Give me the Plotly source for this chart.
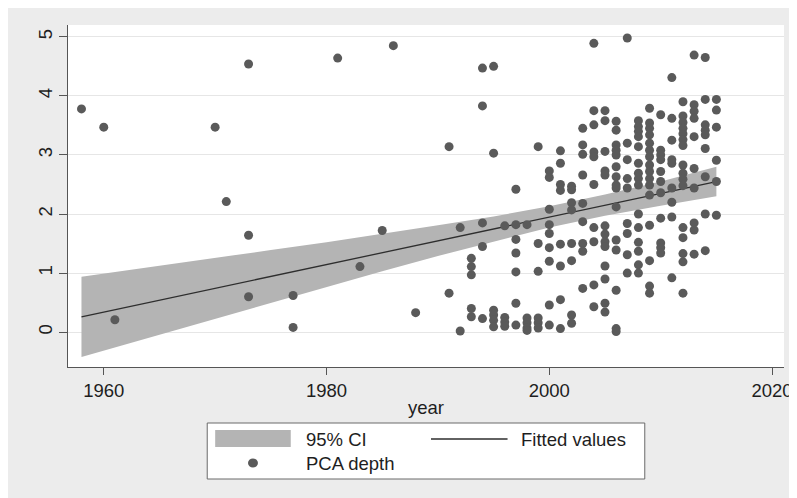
import plotly.graph_objects as go

# ---------------- data ----------------
pca_year = (
    [1958] + [1960] + [1961] + [1970] + [1971] + [1973] * 3 + [1977] * 2 + [1981] + [1983] + [1985] + [1986]
    + [1988] + [1991] * 2 + [1992] * 2 + [1993] * 5 + [1994] * 5 + [1995] * 6 + [1996] * 4 + [1997] * 7
    + [1998] * 5 + [1999] * 6 + [2000] * 9 + [2001] * 8 + [2002] * 8 + [2003] * 9 + [2004] * 10
    + [2005] * 13 + [2006] * 15 + [2007] * 9 + [2008] * 15 + [2009] * 16 + [2010] * 11 + [2011] * 9
    + [2012] * 16 + [2013] * 10 + [2014] * 9 + [2015] * 6
)
pca_depth = [
    3.78,
    3.47,
    0.21,
    3.47,
    2.21,
    4.54, 1.64, 0.60,
    0.62, 0.08,
    4.64,
    1.11,
    1.72,
    4.85,
    0.33,
    3.14, 0.66,
    1.77, 0.02,
    1.25, 1.11, 0.97, 0.40, 0.26,
    4.47, 3.83, 1.85, 1.45, 0.23,
    4.50, 3.03, 0.37, 0.29, 0.20, 0.09,
    1.80, 0.25, 0.17, 0.10,
    2.42, 1.82, 1.57, 1.34, 1.02, 0.49, 0.12,
    1.82, 0.24, 0.16, 0.07, 0.03,
    3.14, 1.50, 1.03, 0.24, 0.16, 0.07,
    2.73, 2.62, 2.08, 1.82, 1.67, 1.43, 1.20, 0.46, 0.12,
    3.07, 2.86, 2.50, 2.40, 1.49, 1.12, 0.55, 0.06,
    2.47, 2.41, 2.19, 2.07, 1.50, 1.21, 0.29, 0.15,
    3.45, 3.17, 3.01, 2.66, 2.18, 1.87, 1.50, 1.37, 0.74,
    4.89, 3.75, 3.51, 3.05, 2.97, 2.50, 1.77, 1.53, 0.80, 0.43,
    3.75, 3.58, 3.06, 2.73, 2.66, 1.80, 1.66, 1.53, 1.45, 1.12, 0.90, 0.49, 0.34,
    3.57, 3.42, 3.17, 3.08, 3.00, 2.80, 2.63, 2.49, 2.44, 2.12, 1.56, 1.39, 0.71, 0.06, 0.01,
    4.98, 3.20, 2.92, 2.60, 2.44, 1.84, 1.67, 1.31, 1.00,
    3.58, 3.48, 3.40, 3.31, 3.14, 2.86, 2.69, 2.60, 2.49, 2.00, 1.77, 1.52, 1.37, 1.14, 1.00,
    3.79, 3.54, 3.45, 3.34, 3.20, 3.08, 2.97, 2.83, 2.72, 2.60, 2.49, 2.32, 1.81, 1.21, 0.78, 0.66,
    3.68, 3.08, 3.00, 2.92, 2.72, 2.55, 2.36, 1.93, 1.51, 1.43, 1.34,
    4.31, 3.62, 3.25, 2.92, 2.86, 2.44, 2.20, 1.95, 0.92,
    3.90, 3.66, 3.55, 3.45, 3.36, 3.26, 3.16, 2.83, 2.69, 2.59, 2.48, 1.77, 1.60, 1.33, 1.19, 0.66,
    4.69, 3.85, 3.74, 3.62, 3.31, 2.77, 2.44, 1.85, 1.73, 1.32,
    4.65, 3.94, 3.51, 3.42, 3.34, 3.11, 2.63, 2.00, 1.38,
    3.94, 3.76, 3.47, 2.91, 2.55, 1.98,
]

fit_year = [1958, 2015]
fit_value = [0.26, 2.55]

ci_year = [1958, 1965, 1970, 1975, 1980, 1985, 1990, 1995, 2000, 2005, 2010, 2015]
ci_lower = [-0.42, -0.04, 0.23, 0.50, 0.76, 1.03, 1.29, 1.53, 1.77, 1.97, 2.14, 2.30]
ci_upper = [0.94, 1.12, 1.25, 1.39, 1.52, 1.66, 1.81, 1.96, 2.13, 2.33, 2.55, 2.80]

x_ticks = [1960, 1980, 2000, 2020]
y_ticks = [0, 1, 2, 3, 4, 5]

legend_labels = ["95% CI", "Fitted values", "PCA depth"]
x_title = "year"

# ---------------- layout geometry ----------------
# the page body adds an 8px offset; positions below are figure coordinates
W, H = 797, 498
ML, MT = 60, 17
PW, PH = 720, 342
MR, MB = W - ML - PW, H - MT - PH
OFF = 8  # page offset, used to convert screen positions of the legend parts


def px(x):
    return (x - OFF - ML) / PW


def py(y):
    return (MT + PH - (y - OFF)) / PH


FONT = "Liberation Sans, Arial, Helvetica, sans-serif"
TXT = "#1e1e1e"
BAND = "#b4b4b4"
LINE = "#2e2e2e"
DOT = "#5a5a5a"
BG = "#ececec"
FS = 18.5

fig = go.Figure()

fig.add_trace(go.Scatter(
    x=ci_year + ci_year[::-1],
    y=ci_upper + ci_lower[::-1],
    fill="toself", fillcolor=BAND, line=dict(width=0, color=BAND),
    mode="lines", name=legend_labels[0], showlegend=False, hoverinfo="skip",
))
fig.add_trace(go.Scatter(
    x=fit_year, y=fit_value, mode="lines",
    line=dict(color=LINE, width=1.3), name=legend_labels[1], showlegend=False,
))
fig.add_trace(go.Scatter(
    x=pca_year, y=pca_depth, mode="markers",
    marker=dict(color=DOT, size=9, line=dict(width=0)),
    name=legend_labels[2], showlegend=False,
))

shapes = [
    # legend box and keys
    dict(type="rect", xref="paper", yref="paper", x0=px(208), x1=px(648), y0=py(479), y1=py(423),
         fillcolor="white", line=dict(color="#6a6a6a", width=1)),
    dict(type="rect", xref="paper", yref="paper", x0=px(216), x1=px(292), y0=py(447), y1=py(430),
         fillcolor=BAND, line=dict(width=0)),
    dict(type="line", xref="paper", yref="paper", x0=px(433), x1=px(510), y0=py(439), y1=py(439),
         line=dict(color=LINE, width=1.3)),
    dict(type="circle", xref="paper", yref="paper", x0=px(249), x1=px(259), y0=py(467.5), y1=py(458.5),
         fillcolor=DOT, line=dict(width=0)),
]

annotations = [
    dict(text=legend_labels[0], xref="paper", yref="paper", x=px(305), y=py(439),
         xanchor="left", yanchor="middle", showarrow=False, font=dict(family=FONT, size=FS, color=TXT)),
    dict(text=legend_labels[1], xref="paper", yref="paper", x=px(522), y=py(439),
         xanchor="left", yanchor="middle", showarrow=False, font=dict(family=FONT, size=FS, color=TXT)),
    dict(text=legend_labels[2], xref="paper", yref="paper", x=px(305), y=py(463),
         xanchor="left", yanchor="middle", showarrow=False, font=dict(family=FONT, size=FS, color=TXT)),
]

fig.update_layout(
    width=W, height=H,
    margin=dict(l=ML, r=MR, t=MT, b=MB, pad=0),
    paper_bgcolor=BG, plot_bgcolor="white",
    font=dict(family=FONT, size=FS, color=TXT),
    showlegend=False,
    shapes=shapes, annotations=annotations,
    xaxis=dict(
        range=[1956.79, 2021.07], tickvals=x_ticks, ticktext=[str(t) for t in x_ticks],
        showgrid=False, zeroline=False, showline=True, linecolor="#555555", linewidth=1,
        ticks="outside", ticklen=7, tickcolor="#555555", tickwidth=1,
        tickfont=dict(family=FONT, size=FS, color=TXT),
        title=dict(text=x_title, font=dict(family=FONT, size=FS, color=TXT), standoff=0),
    ),
    yaxis=dict(
        range=[-0.59, 5.2], tickvals=y_ticks, ticktext=[str(t) for t in y_ticks],
        showgrid=True, gridcolor="#e6e6e6", gridwidth=1.3, zeroline=False,
        showline=True, linecolor="#555555", linewidth=1,
        ticks="outside", ticklen=8, tickcolor="#555555", tickwidth=1, tickangle=-90,
        tickfont=dict(family=FONT, size=FS, color=TXT),
    ),
)

fig.write_html("out.html")
